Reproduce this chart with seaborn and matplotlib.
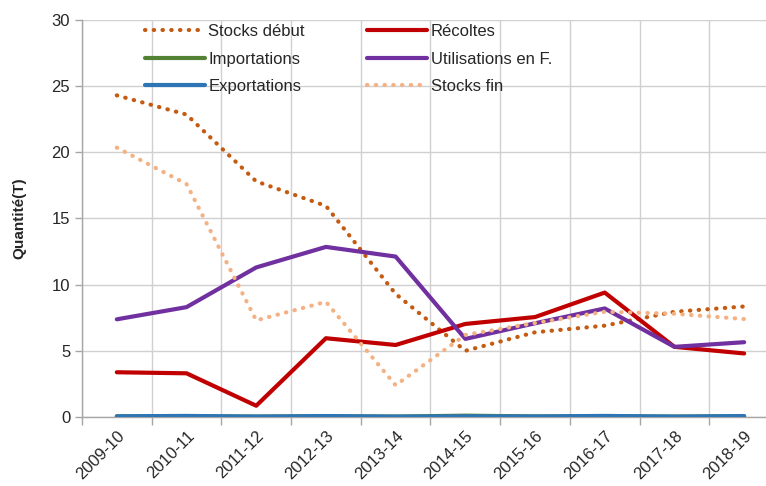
import numpy as np
import pandas as pd
import matplotlib
matplotlib.use('Agg')
import matplotlib.pyplot as plt
from matplotlib.ticker import FixedLocator
import seaborn as sns

# Données
campagnes = ['2009-10', '2010-11', '2011-12', '2012-13', '2013-14',
             '2014-15', '2015-16', '2016-17', '2017-18', '2018-19']
stocks_debut = [24.3, 22.85, 17.8, 15.95, 9.3, 5.0, 6.4, 6.9, 7.95, 8.35]
recoltes = [3.38, 3.3, 0.85, 5.95, 5.44, 7.03, 7.55, 9.4, 5.3, 4.8]
importations = [0.05, 0.05, 0.03, 0.05, 0.03, 0.1, 0.04, 0.05, 0.03, 0.05]
utilisations = [7.38, 8.3, 11.3, 12.85, 12.12, 5.9, 7.08, 8.2, 5.3, 5.65]
exportations = [0.05, 0.08, 0.03, 0.07, 0.03, 0.05, 0.04, 0.08, 0.03, 0.07]
stocks_fin = [20.35, 17.6, 7.3, 8.7, 2.4, 6.2, 7.1, 7.95, 7.8, 7.4]

series = [
    ('Stocks début', stocks_debut, '#C55A11', 'dot'),
    ('Importations', importations, '#548235', 'solid'),
    ('Exportations', exportations, '#2E75B6', 'solid'),
    ('Récoltes', recoltes, '#C00000', 'solid'),
    ('Utilisations en F.', utilisations, '#7030A0', 'solid'),
    ('Stocks fin', stocks_fin, '#F4B183', 'dot'),
]

sns.set_style('white')
plt.rcParams['font.family'] = ['Liberation Sans', 'DejaVu Sans']

fig = plt.figure(figsize=(7.66, 4.86), dpi=100)
ax = fig.add_axes([0.107, 0.142, 0.893, 0.817])

x = np.arange(len(campagnes))
# ordre de tracé : exportations au-dessus des importations
draw_order = [1, 2, 0, 5, 4, 3]
handles = {}
for i in draw_order:
    name, vals, color, style = series[i]
    df = pd.DataFrame({'x': x, 'y': vals})
    sns.lineplot(data=df, x='x', y='y', ax=ax, color=color, lw=3,
                 legend=False, zorder=3 + i)
    line = ax.lines[-1]
    if style == 'dot':
        line.set_linestyle((0, (0.1, 2.0)))
        line.set_dash_capstyle('round')
    handles[name] = line

ax.set_xlim(-0.5, -0.5 + (766 - 82) / 69.7)
ax.set_ylim(0, 30)
ax.set_yticks(np.arange(0, 31, 5))
ax.set_xticks(x)
ax.set_xticklabels(campagnes, rotation=45, ha='right', rotation_mode='anchor')
ax.xaxis.set_minor_locator(FixedLocator(np.arange(-0.5, 10, 1)))

ax.tick_params(axis='x', which='major', length=0, pad=8, labelsize=12, colors='#262626')
ax.tick_params(axis='x', which='minor', length=6, width=1, color='#A6A6A6', direction='out', bottom=True)
ax.tick_params(axis='y', length=5, width=1, color='#A6A6A6', direction='out', left=True, labelsize=12, labelcolor='#262626')

ax.grid(False)
ax.grid(axis='y', which='major', color='#D0D0D0', lw=1)
ax.grid(axis='x', which='minor', color='#D0D0D0', lw=1)
ax.set_axisbelow(True)

for s in ['top', 'right']:
    ax.spines[s].set_visible(False)
for s in ['left', 'bottom']:
    ax.spines[s].set_color('#A6A6A6')
    ax.spines[s].set_linewidth(1)

ax.set_xlabel('')
ax.set_ylabel('Quantité(T)', fontsize=11, fontweight='bold', labelpad=18)

order = ['Stocks début', 'Importations', 'Exportations', 'Récoltes', 'Utilisations en F.', 'Stocks fin']
leg = ax.legend([handles[n] for n in order], order, ncol=2, loc='upper left',
                bbox_to_anchor=(0.07, 1.027), frameon=False, fontsize=12,
                handlelength=3.6, handletextpad=0.2, columnspacing=3.75,
                labelspacing=0.75)

fig.savefig('out.png', dpi=100)
